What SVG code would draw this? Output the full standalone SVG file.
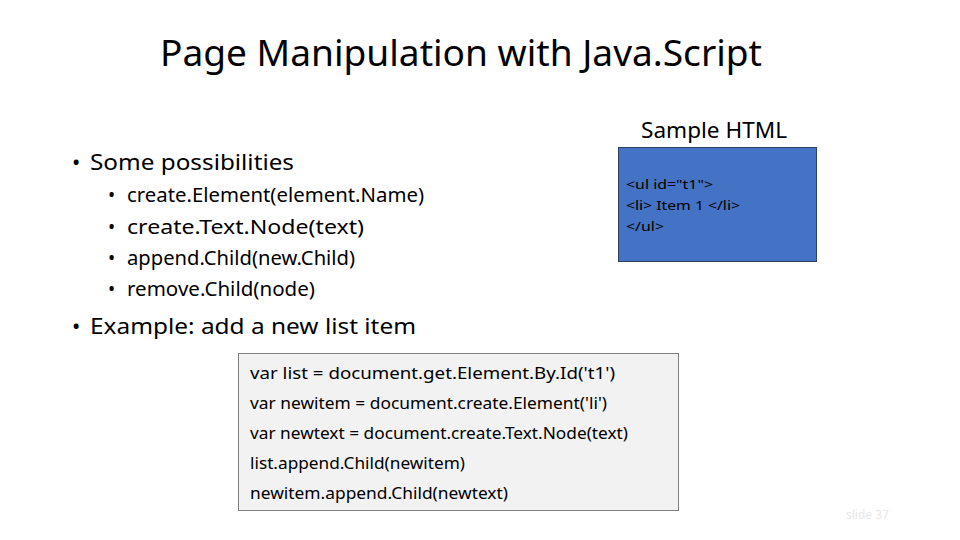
<svg xmlns="http://www.w3.org/2000/svg" width="960" height="540" viewBox="0 0 960 540">
<style>
text{font-family:"Noto Sans","Liberation Sans",sans-serif;fill:#000}
.t{font-size:36px}
.b1{font-size:22px}
.b2{font-size:19px}
.c{font-size:16px}
.h{font-size:13px}
</style>
<rect width="960" height="540" fill="#fff"/>
<text class="t" x="160" y="66" textLength="602" lengthAdjust="spacingAndGlyphs">Page Manipulation with Java.Script</text>
<g id="bullets">
<text class="b1" x="72" y="170">•</text>
<text class="b1" x="90" y="170" textLength="204" lengthAdjust="spacingAndGlyphs">Some possibilities</text>
<text class="b2" x="108" y="202">•</text><text class="b2" x="127" y="202" textLength="297" lengthAdjust="spacingAndGlyphs">create.Element(element.Name)</text>
<text class="b2" x="108" y="234">•</text><text class="b2" x="127" y="234" textLength="237" lengthAdjust="spacingAndGlyphs">create.Text.Node(text)</text>
<text class="b2" x="108" y="265">•</text><text class="b2" x="127" y="265" textLength="228" lengthAdjust="spacingAndGlyphs">append.Child(new.Child)</text>
<text class="b2" x="108" y="296">•</text><text class="b2" x="127" y="296" textLength="188" lengthAdjust="spacingAndGlyphs">remove.Child(node)</text>
<text class="b1" x="72" y="334">•</text>
<text class="b1" x="90" y="334" textLength="326" lengthAdjust="spacingAndGlyphs">Example: add a new list item</text>
</g>
<text class="b1" x="641" y="138" textLength="146" lengthAdjust="spacingAndGlyphs">Sample HTML</text>
<g id="html">
<rect x="618.5" y="147.5" width="198" height="114" fill="#4472C4" stroke="#2F3F5F" stroke-width="1"/>
<text class="h" x="626" y="189" textLength="87" lengthAdjust="spacingAndGlyphs">&lt;ul id="t1"&gt;</text>
<text class="h" x="626" y="210" textLength="114" lengthAdjust="spacingAndGlyphs">&lt;li&gt; Item 1 &lt;/li&gt;</text>
<text class="h" x="626" y="231" textLength="38" lengthAdjust="spacingAndGlyphs">&lt;/ul&gt;</text>
</g>
<g id="code">
<rect x="238.5" y="353.5" width="440" height="157" fill="#F2F2F2" stroke="#7F7F7F" stroke-width="1"/>
<text class="c" x="250" y="379" textLength="365" lengthAdjust="spacingAndGlyphs">var list = document.get.Element.By.Id('t1')</text>
<text class="c" x="250" y="409" textLength="357" lengthAdjust="spacingAndGlyphs">var newitem = document.create.Element('li')</text>
<text class="c" x="250" y="439" textLength="378" lengthAdjust="spacingAndGlyphs">var newtext = document.create.Text.Node(text)</text>
<text class="c" x="250" y="469" textLength="215" lengthAdjust="spacingAndGlyphs">list.append.Child(newitem)</text>
<text class="c" x="250" y="499" textLength="258" lengthAdjust="spacingAndGlyphs">newitem.append.Child(newtext)</text>
</g>
<text x="846" y="519" style="font-size:12px;fill:#E8E8E8">slide 37</text>
</svg>
